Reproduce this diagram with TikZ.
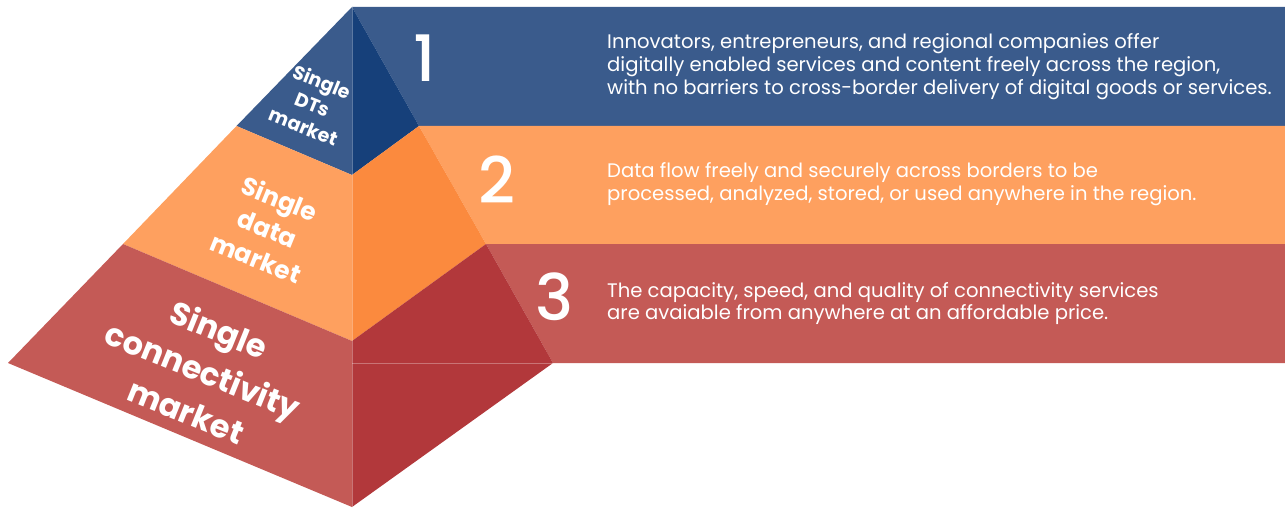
\documentclass[tikz,border=0pt]{standalone}
\usepackage{fontspec}
\setmainfont{Poppins}
\newfontfamily\numfont{Poppins}[UprightFont=* Medium]
\definecolor{bandblue}{HTML}{3A5B8C}
\definecolor{darkblue}{HTML}{16407A}
\definecolor{bandorange}{HTML}{FEA05F}
\definecolor{darkorange}{HTML}{FB8A3E}
\definecolor{bandred}{HTML}{C45A56}
\definecolor{darkred}{HTML}{B2383B}

\begin{document}
\begin{tikzpicture}[
  x=1pt, y=-1pt,
  seam/.style={draw=white, opacity=0.3, line width=0.6pt},
  tier/.style={text=white, font=\bfseries, align=center, rotate=-22, inner sep=0pt},
  num/.style={text=white, font=\numfont\fontsize{64}{64}\selectfont, inner sep=0pt},
  desc/.style={text=white, font=\fontsize{19.6}{22.7}\selectfont, align=left, anchor=west, inner sep=0pt}
]
  \useasboundingbox (0,0) rectangle (1285,508);

  \coordinate (apex) at (352,7);
  \coordinate (l1) at (236.5,126);
  \coordinate (c1) at (352,175);
  \coordinate (r1) at (419,126);
  \coordinate (l2) at (123,244);
  \coordinate (c2) at (352,341);
  \coordinate (r2) at (486,244);
  \coordinate (l3) at (8,363);
  \coordinate (c3) at (352,507);
  \coordinate (r3) at (553,363);
  \coordinate (m3) at (352,363);

  \fill[bandblue] (apex) -- (1285,7) -- (1285,126) -- (r1) -- cycle;
  \fill[bandorange] (r1) -- (1285,126) -- (1285,244) -- (r2) -- cycle;
  \fill[bandred] (r2) -- (1285,244) -- (1285,363) -- (r3) -- cycle;

  \fill[bandblue] (apex) -- (l1) -- (c1) -- cycle;
  \fill[bandorange] (l1) -- (l2) -- (c2) -- (c1) -- cycle;
  \fill[bandred] (l2) -- (l3) -- (c3) -- (c2) -- cycle;
  \fill[darkblue] (apex) -- (c1) -- (r1) -- cycle;
  \fill[darkorange] (c1) -- (c2) -- (r2) -- (r1) -- cycle;
  \fill[darkred] (c2) -- (c3) -- (r3) -- (r2) -- cycle;

  \draw[seam] (apex) -- (c3);
  \draw[seam] (m3) -- (r3);

  \node[tier, font=\bfseries\fontsize{19}{24}\selectfont] (tierdts) at (313,104) {Single\\DTs\\market};
  \node[tier, font=\bfseries\fontsize{25}{32}\selectfont] (tierdata) at (268,228) {Single\\data\\market};
  \node[tier, font=\bfseries\fontsize{32}{44}\selectfont] (tierconn) at (203,370) {Single\\connectivity\\market};

  \node[num] (num1) at (425,58) {1};
  \node[num] (num2) at (497,180) {2};
  \node[num] (num3) at (555,297) {3};

  \node[desc] (desc1) at (607,66.5) {Innovators, entrepreneurs, and regional companies offer\\digitally enabled services and content freely across the region,\\with no barriers to cross-border delivery of digital goods or services.};
  \node[desc] (desc2) at (607,184) {Data flow freely and securely across borders to be\\processed, analyzed, stored, or used anywhere in the region.};
  \node[desc] (desc3) at (607,303.5) {The capacity, speed, and quality of connectivity services\\are avaiable from anywhere at an affordable price.};
\end{tikzpicture}
\end{document}
